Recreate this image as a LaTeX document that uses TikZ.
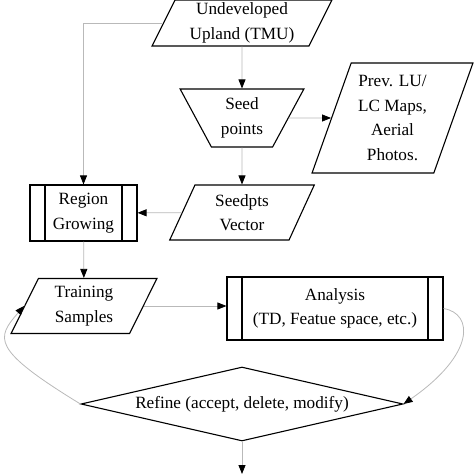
\documentclass[tikz,border=0pt]{standalone}
\usepackage{fontspec}
\setmainfont{Liberation Serif}
\usetikzlibrary{shapes.geometric,arrows.meta}

\newcommand{\linkcol}{gray!55}
\tikzset{every path/.style={line width=1.1pt}}
\tikzset{
  box/.style={draw, align=center, inner sep=1pt, font=\fontsize{17.2}{24.6}\selectfont},
  slant/.style={box, trapezium, trapezium stretches=true},
  proc/.style={box, rectangle, path picture={
      \draw ([xshift=15pt]path picture bounding box.north west) -- ([xshift=15pt]path picture bounding box.south west);
      \draw ([xshift=-15pt]path picture bounding box.north east) -- ([xshift=-15pt]path picture bounding box.south east);}},
  link/.style={draw=\linkcol, line width=0.8pt, -{Triangle[length=9pt,width=7pt,color=black]}}
}

\begin{document}
\begin{tikzpicture}[x=1pt,y=-1pt]
\useasboundingbox (0,0) rectangle (474,476);

\node[slant, trapezium left angle=66.5, trapezium right angle=113.5, minimum width=180pt, minimum height=46pt] (tmu) at (242,23) {Undeveloped\\Upland (TMU)};
\node[slant, shape border rotate=180, trapezium angle=61.9, minimum width=124pt, minimum height=58pt] (seed) at (242,118) {Seed\\points};
\node[slant, trapezium left angle=69, trapezium right angle=111, minimum width=161pt, minimum height=110pt] (prev) at (392.5,118) {Prev. LU/\\LC Maps,\\Aerial\\Photos.};
\node[slant, trapezium left angle=69, trapezium right angle=111, minimum width=145pt, minimum height=55pt] (vec) at (242,212.5) {Seedpts\\Vector};
\node[proc, minimum width=107pt, minimum height=56pt] (grow) at (83.5,213) {Region\\Growing};
\node[slant, trapezium left angle=66.4, trapezium right angle=113.6, minimum width=146pt, minimum height=55pt] (train) at (84,306) {Training\\Samples};
\node[proc, minimum width=216pt, minimum height=63pt] (ana) at (335,308.5) {Analysis\\(TD, Featue space, etc.)};
\node[box, diamond, aspect=4.35, minimum width=322pt, minimum height=74pt] (refine) at (242,404) {Refine (accept, delete, modify)};
\coordinate (out) at (242,474);

\draw[link] (tmu) -- (seed);
\draw[link] (seed.east) -- (prev.west);
\draw[link] (seed) -- (vec);
\draw[link] (vec) -- (grow);
\draw[link] (tmu.west) -| (grow.north);
\draw[link] (grow) -- (train);
\draw[link] (train.east) -- (train.east -| ana.west);
\draw[link] (ana.east) .. controls +(30,5) and +(72,-50) .. (refine.east);
\draw[link] (refine.west) .. controls +(-90,-55) and +(-28,32) .. (train.west);
\draw[link] (refine) -- (out);
\end{tikzpicture}
\end{document}
